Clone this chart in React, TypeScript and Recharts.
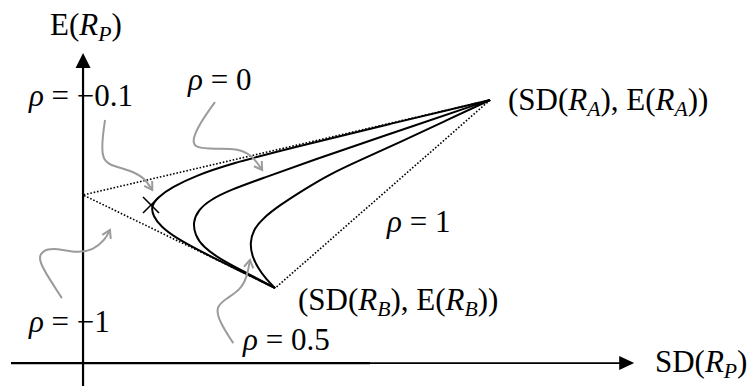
import { ComposedChart, Line, Scatter, XAxis, YAxis, ReferenceLine, ReferenceDot } from 'recharts'

// points are (SD, E), scaled so asset A sits at (10, 10)
const assetA = { x: 10, y: 10 }
const assetB = { x: 4.72, y: 2.85 }
const zeroRisk = { x: 0, y: 6.39 }

const rhoMinus01: [number, number][] = [
  [4.72, 2.85], [3.86, 3.5], [2.87, 4.26], [2.29, 4.75], [1.92, 5.17], [1.72, 5.59],
  [1.67, 5.97], [1.84, 6.31], [2.19, 6.69], [2.75, 7.11], [3.61, 7.57], [5.09, 8.17],
  [7.54, 9.09], [10, 10],
]

const rho0: [number, number][] = [
  [4.72, 2.85], [3.98, 3.46], [3.37, 3.95], [2.95, 4.41], [2.75, 4.87], [2.7, 5.36],
  [2.83, 5.82], [3.12, 6.2], [3.61, 6.58], [4.42, 7.03], [5.65, 7.72], [7.3, 8.59], [10, 10],
]

const rho05: [number, number][] = [
  [4.72, 2.85], [4.5, 3.19], [4.3, 3.61], [4.15, 4.07], [4.1, 4.56], [4.18, 5.06],
  [4.42, 5.51], [4.84, 6.01], [5.41, 6.58], [6.07, 7.19], [6.81, 7.72], [7.79, 8.4],
  [8.89, 9.2], [10, 10],
]

const minVariance = [{ x: 1.67, y: 6.01 }]

const rhoMinus1 = [assetB, zeroRisk, assetA]
const rho1 = [assetA, assetB]

// gray pointer arrows from the labels to the curves
const arrowMinus01: [number, number][] = [
  [0.54, 9.24], [0.47, 8.48], [0.47, 7.83], [0.61, 7.53], [1.15, 7.34], [1.52, 7.03], [1.7, 6.58],
]
const arrow0: [number, number][] = [
  [3.24, 9.92], [2.87, 9.12], [2.68, 8.48], [2.75, 8.17], [3.24, 8.14], [3.78, 8.17], [4.15, 7.91], [4.4, 7.34],
]
const arrowMinus1: [number, number][] = [
  [-0.52, 2.47], [-0.81, 3.16], [-1.11, 3.92], [-1.01, 4.3], [-0.64, 4.37], [-0.15, 4.18],
  [0.25, 4.3], [0.54, 4.68], [0.66, 5.06],
]
const arrow05: [number, number][] = [
  [3.69, 0.76], [3.37, 1.52], [3.24, 2.13], [3.54, 2.47], [3.86, 2.78], [4.03, 3.27], [4.1, 3.92],
]

const toPts = (arr: [number, number][]) => arr.map(([x, y]) => ({ x, y }))

const X_DOMAIN: [number, number] = [-2.04, 16.36]
const Y_DOMAIN: [number, number] = [-0.87, 13.8]

const FONT = 'Liberation Serif'
const FS = 31
const GRAY = '#9b9b9b'

const arrowDot = (props: any) => {
  const { cx, cy, index, points } = props
  if (!points || index !== points.length - 1) return <g key={`d-${index}`} />
  const prev = points[index - 1]
  const ang = Math.atan2(cy - prev.y, cx - prev.x)
  const len = 9
  const a1 = ang + Math.PI - 0.55
  const a2 = ang + Math.PI + 0.55
  return (
    <path
      key={`d-${index}`}
      d={`M${cx + len * Math.cos(a1)},${cy + len * Math.sin(a1)} L${cx},${cy} L${cx + len * Math.cos(a2)},${cy + len * Math.sin(a2)}`}
      stroke={GRAY}
      strokeWidth={2}
      fill="none"
    />
  )
}

const crossShape = (props: any) => {
  const { cx, cy } = props
  const s = 8
  return (
    <g>
      <line x1={cx - s} y1={cy - s} x2={cx + s} y2={cy + s} stroke="#000" strokeWidth={1.6} />
      <line x1={cx - s} y1={cy + s} x2={cx + s} y2={cy - s} stroke="#000" strokeWidth={1.6} />
    </g>
  )
}

const Sub = ({ r, s }: { r: string; s: string }) => (
  <>
    <tspan fontStyle="italic">{r}</tspan>
    <tspan fontStyle="italic" fontSize={FS * 0.7} dy={6}>{s}</tspan>
    <tspan dy={-6}>)</tspan>
  </>
)

const Rho = ({ v }: { v: string }) => (
  <>
    <tspan fontStyle="italic">ρ</tspan>
    <tspan> = </tspan>
    <tspan>{v}</tspan>
  </>
)

const labels: { x: number; y: number; body: JSX.Element }[] = [
  { x: -0.81, y: 12.47, body: <>E(<Sub r="R" s="P" /></> },
  { x: -1.33, y: 9.77, body: <Rho v="−0.1" /> },
  { x: 2.58, y: 10.38, body: <Rho v="0" /> },
  { x: 7.47, y: 4.98, body: <Rho v="1" /> },
  { x: 10.44, y: 9.62, body: <>(SD(<Sub r="R" s="A" />, E(<Sub r="R" s="A" />)</> },
  { x: 5.28, y: 2.02, body: <>(SD(<Sub r="R" s="B" />, E(<Sub r="R" s="B" />)</> },
  { x: 3.93, y: 0.49, body: <Rho v="0.5" /> },
  { x: -1.33, y: 1.18, body: <Rho v="−1" /> },
  { x: 14.05, y: -0.34, body: <>SD(<Sub r="R" s="P" /></> },
]

export default function App() {
  return (
    <div style={{ position: 'absolute', left: 0, top: 0, background: '#fff' }}>
      <ComposedChart width={749} height={386} margin={{ top: 0, right: 0, bottom: 0, left: 0 }}>
        <XAxis type="number" dataKey="x" domain={X_DOMAIN} allowDataOverflow hide />
        <YAxis type="number" dataKey="y" domain={Y_DOMAIN} allowDataOverflow hide />

        {/* axes */}
        <ReferenceLine segment={[{ x: 0, y: -0.87 }, { x: 0, y: 11.25 }]} stroke="#000" strokeWidth={2.2} ifOverflow="visible" />
        <ReferenceLine segment={[{ x: -1.77, y: 0 }, { x: 7.05, y: 0 }]} stroke="#000" strokeWidth={2.2} ifOverflow="visible" />
        <ReferenceLine segment={[{ x: 7.05, y: 0 }, { x: 13.2, y: 0 }]} stroke="#000" strokeWidth={1.6} ifOverflow="visible" />
        <ReferenceDot
          x={0}
          y={11.79}
          r={0}
          ifOverflow="visible"
          shape={(p: any) => <path d={`M${p.cx},${p.cy} L${p.cx - 7.5},${p.cy + 15} L${p.cx + 7.5},${p.cy + 15} Z`} fill="#000" />}
        />
        <ReferenceDot
          x={13.54}
          y={0}
          r={0}
          ifOverflow="visible"
          shape={(p: any) => <path d={`M${p.cx},${p.cy} L${p.cx - 15},${p.cy - 7} L${p.cx - 15},${p.cy + 7} Z`} fill="#000" />}
        />

        {/* boundaries */}
        <Line data={rhoMinus1} dataKey="y" type="linear" stroke="#000" strokeWidth={1.6} strokeDasharray="1.6 1.8" dot={false} activeDot={false} isAnimationActive={false} />
        <Line data={rho1} dataKey="y" type="linear" stroke="#000" strokeWidth={1.6} strokeDasharray="1.6 1.8" dot={false} activeDot={false} isAnimationActive={false} />

        {/* frontiers */}
        <Line data={toPts(rhoMinus01)} dataKey="y" type="basis" stroke="#000" strokeWidth={2} dot={false} activeDot={false} isAnimationActive={false} />
        <Line data={toPts(rho0)} dataKey="y" type="basis" stroke="#000" strokeWidth={2} dot={false} activeDot={false} isAnimationActive={false} />
        <Line data={toPts(rho05)} dataKey="y" type="basis" stroke="#000" strokeWidth={2} dot={false} activeDot={false} isAnimationActive={false} />
        <Scatter data={minVariance} dataKey="y" shape={crossShape} isAnimationActive={false} />

        {/* pointer arrows */}
        {[arrowMinus01, arrow0, arrowMinus1, arrow05].map((a, i) => (
          <Line
            key={`arrow-${i}`}
            data={toPts(a)}
            dataKey="y"
            type="basis"
            stroke={GRAY}
            strokeWidth={2}
            dot={arrowDot}
            activeDot={false}
            isAnimationActive={false}
          />
        ))}

        {labels.map((l, i) => (
          <ReferenceDot
            key={`lbl-${i}`}
            x={l.x}
            y={l.y}
            r={0}
            ifOverflow="visible"
            shape={(p: any) => (
              <text x={p.cx} y={p.cy} fontFamily={FONT} fontSize={FS} fill="#000">
                {l.body}
              </text>
            )}
          />
        ))}
      </ComposedChart>
    </div>
  )
}
